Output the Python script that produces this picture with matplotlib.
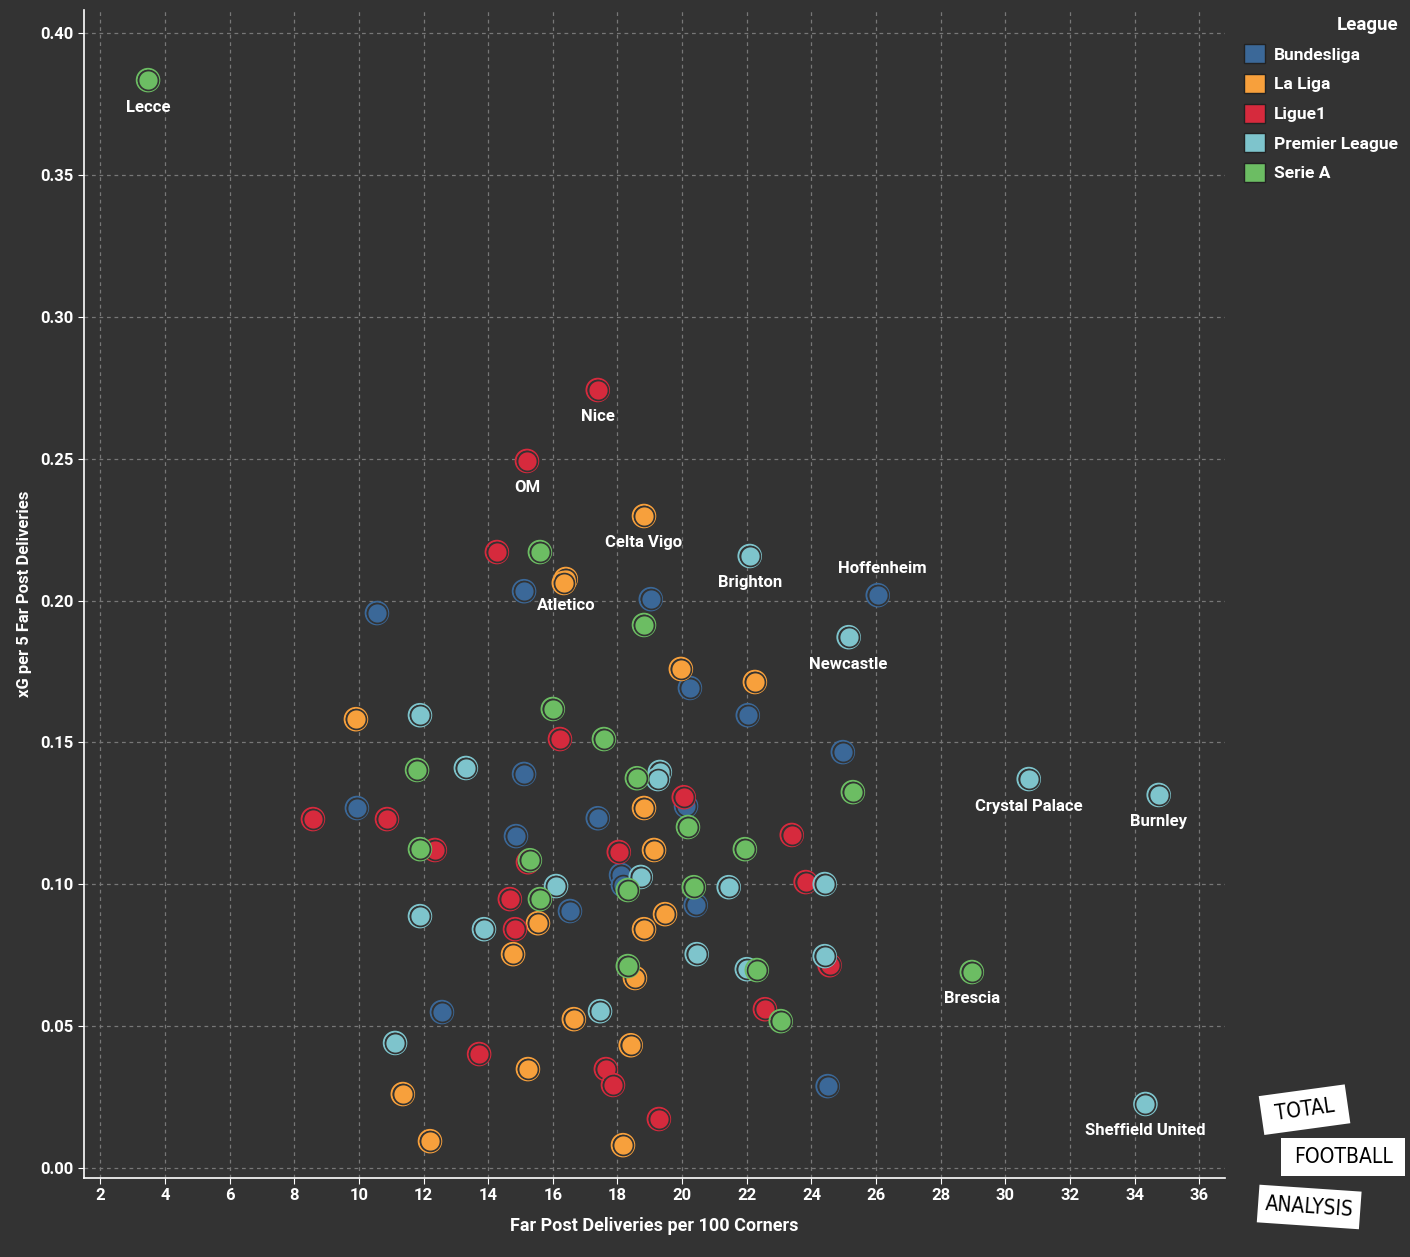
import matplotlib.pyplot as plt
from matplotlib.patches import Patch, Rectangle
from matplotlib.ticker import FormatStrFormatter

# league data: x = far post deliveries per 100 corners, y = xG per 5 far post deliveries
bund_x = [10.56, 15.11, 19.03, 26.05, 20.24, 22.03, 24.97, 15.11, 9.94, 14.86, 17.39, 20.12,
          18.11, 18.17, 16.53, 20.42, 12.57, 24.50]
bund_y = [0.1956, 0.2033, 0.2005, 0.2019, 0.1692, 0.1596, 0.1466, 0.1389, 0.1269, 0.1170, 0.1233, 0.1276,
          0.1033, 0.0997, 0.0906, 0.0927, 0.0550, 0.0289]

liga_x = [18.82, 16.40, 16.34, 19.96, 22.25, 9.91, 18.82, 19.13, 19.47, 18.82, 15.54, 14.77,
          18.54, 16.65, 18.41, 15.23, 11.36, 12.20, 18.17]
liga_y = [0.2298, 0.2076, 0.2062, 0.1759, 0.1713, 0.1582, 0.1269, 0.1121, 0.0895, 0.0842, 0.0863, 0.0754,
          0.0670, 0.0525, 0.0433, 0.0349, 0.0261, 0.0095, 0.0081]

l1_x = [17.39, 15.20, 14.27, 16.22, 8.58, 10.87, 12.35, 20.05, 18.04, 23.39, 15.23, 14.67,
        14.83, 23.82, 24.56, 22.56, 13.72, 17.64, 17.86, 19.28]
l1_y = [0.2742, 0.2492, 0.2171, 0.1512, 0.1230, 0.1230, 0.1121, 0.1307, 0.1114, 0.1174, 0.1078, 0.0948,
        0.0842, 0.1008, 0.0715, 0.0560, 0.0402, 0.0349, 0.0293, 0.0173]

pl_x = [22.09, 25.15, 11.89, 13.31, 19.31, 19.25, 30.72, 34.74, 16.10, 18.72, 21.44, 24.41,
        11.89, 13.87, 20.45, 22.00, 24.41, 17.46, 11.12, 34.33]
pl_y = [0.2157, 0.1871, 0.1596, 0.1410, 0.1396, 0.1371, 0.1371, 0.1315, 0.0994, 0.1026, 0.0990, 0.1001,
        0.0888, 0.0842, 0.0754, 0.0701, 0.0747, 0.0553, 0.0441, 0.0226]

sa_x = [3.48, 15.60, 18.82, 16.00, 17.58, 11.80, 18.60, 25.28, 20.18, 11.89, 21.94, 15.29,
        20.36, 15.60, 18.32, 18.32, 22.31, 23.05, 28.96]
sa_y = [0.3834, 0.2171, 0.1914, 0.1618, 0.1512, 0.1403, 0.1374, 0.1325, 0.1202, 0.1124, 0.1124, 0.1085,
        0.0990, 0.0948, 0.0980, 0.0712, 0.0698, 0.0518, 0.0691]

leagues = ["Bundesliga", "La Liga", "Ligue1", "Premier League", "Serie A"]
colors = ["#3b6898", "#f7a03c", "#d62a3d", "#7ec4cc", "#6cbd63"]

# team labels (name, x, y, placement)
lab_names = ["Lecce", "Nice", "OM", "Celta Vigo", "Atletico", "Brighton", "Hoffenheim", "Newcastle",
             "Crystal Palace", "Burnley", "Brescia", "Sheffield United"]
lab_x = [3.48, 17.39, 15.20, 18.82, 16.40, 22.09, 26.05, 25.15, 30.72, 34.74, 28.96, 34.33]
lab_y = [0.3834, 0.2742, 0.2492, 0.2298, 0.2076, 0.2157, 0.2019, 0.1871, 0.1371, 0.1315, 0.0691, 0.0226]
lab_pos = ["below"] * 12
lab_pos[6] = "above"

bg = "#333333"
plt.rcParams['font.family'] = ['Roboto', 'DejaVu Sans']

fig = plt.figure(figsize=(14.1, 12.57), dpi=100, facecolor=bg)
ax = fig.add_axes([0.0596, 0.0628, 0.8094, 0.929])
ax.set_facecolor(bg)

data = [(bund_x, bund_y), (liga_x, liga_y), (l1_x, l1_y), (pl_x, pl_y), (sa_x, sa_y)]
for i, (xs, ys) in enumerate(data):
    for x, y in zip(xs, ys):
        ax.scatter([x], [y], s=265, facecolor="none", edgecolor=colors[i], linewidths=1.4, zorder=3)
        ax.scatter([x], [y], s=205, facecolor=colors[i], edgecolor=bg, linewidths=1.2, zorder=3)

for name, x, y, pos in zip(lab_names, lab_x, lab_y, lab_pos):
    if pos == "below":
        ax.annotate(name, (x, y), xytext=(0, -14), textcoords="offset points", ha="center", va="top",
                    color="white", fontsize=12, fontweight="bold", zorder=4)
    else:
        ax.annotate(name, (x, y), xytext=(3, 14), textcoords="offset points", ha="center", va="bottom",
                    color="white", fontsize=12, fontweight="bold", zorder=4)

ax.set_xlim(1.5, 36.8)
ax.set_ylim(-0.0035, 0.408)
ax.set_xticks(range(2, 37, 2))
ax.set_yticks([0, 0.05, 0.10, 0.15, 0.20, 0.25, 0.30, 0.35, 0.40])
ax.yaxis.set_major_formatter(FormatStrFormatter('%.2f'))
ax.grid(True, color="#777777", linestyle=(0, (3, 3)), linewidth=0.9, zorder=0)
ax.set_axisbelow(True)
for s in ["top", "right"]:
    ax.spines[s].set_visible(False)
for s in ["left", "bottom"]:
    ax.spines[s].set_color("white")
    ax.spines[s].set_linewidth(1.2)
ax.tick_params(colors="white", labelsize=12, length=4)
for t in ax.get_xticklabels() + ax.get_yticklabels():
    t.set_fontweight("bold")
ax.set_xlabel("Far Post Deliveries per 100 Corners", color="white", fontsize=13, fontweight="bold", labelpad=10)
ax.set_ylabel("xG per 5 Far Post Deliveries", color="white", fontsize=12, fontweight="bold", labelpad=6)

handles = [Patch(facecolor=c, edgecolor="#222222", label=l) for c, l in zip(colors, leagues)]
leg = fig.legend(handles=handles, title="League", loc="upper left", bbox_to_anchor=(0.871, 1.0),
                 frameon=False, fontsize=12.5, title_fontsize=13.5, handlelength=1.2, handleheight=1.3,
                 handletextpad=0.55, labelspacing=0.62, alignment="right")
for t in leg.get_texts():
    t.set_color("white")
    t.set_fontweight("bold")
leg.get_title().set_color("white")
leg.get_title().set_fontweight("bold")

# logo
lax = fig.add_axes([0.89, 0.02, 0.11, 0.12])
lax.set_xlim(0, 1)
lax.set_ylim(0, 1)
lax.axis("off")
logo_words = ["TOTAL", "FOOTBALL", "ANALYSIS"]
logo_box = [(0.04, 0.68, 0.56, 0.26, 8), (0.17, 0.37, 0.8, 0.25, 0), (0.02, 0.04, 0.66, 0.25, -4)]
for w, (bx, by, bw, bh, rot) in zip(logo_words, logo_box):
    r = Rectangle((bx, by), bw, bh, facecolor="white", edgecolor="none", angle=rot, rotation_point="center")
    lax.add_patch(r)
    lax.text(bx + bw / 2, by + bh / 2, w, ha="center", va="center", fontsize=15, color="black",
             rotation=rot, family="DejaVu Sans", stretch="condensed")

fig.savefig("out.png", dpi=100, facecolor=bg)
